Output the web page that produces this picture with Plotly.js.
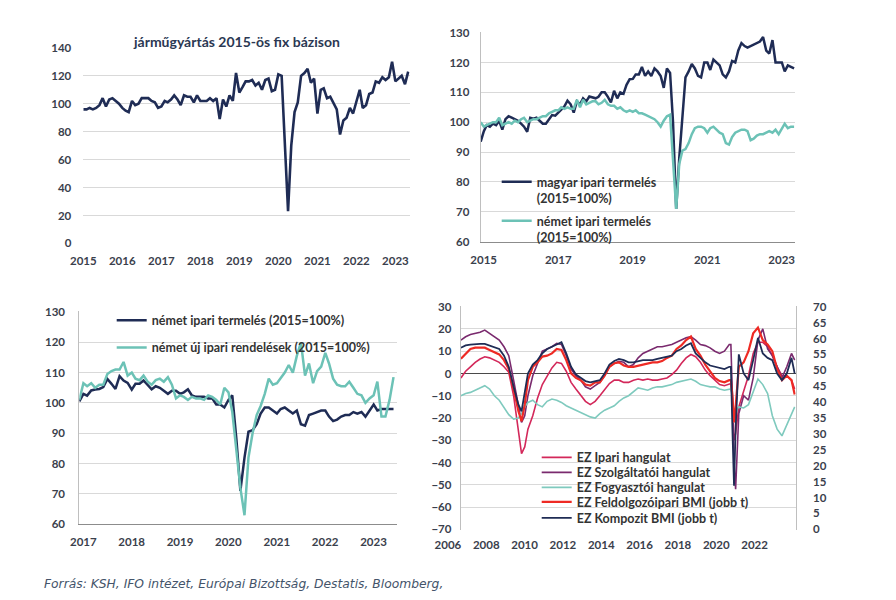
<!DOCTYPE html>
<html><head><meta charset="utf-8">
<script src="https://cdn.plot.ly/plotly-3.0.1.min.js"></script>
<style>html,body{margin:0;padding:0;background:#fff}#chart{width:896px;height:600px}</style>
</head><body><div id="chart"></div>
<script>
// ---------- Panel 1: járműgyártás (monthly, Jan 2015 – May 2023)
const p1Title = 'járműgyártás 2015-ös fix bázison';
const p1TickYears = [2015,2016,2017,2018,2019,2020,2021,2022,2023];
const p1Vehicle = [96,96,97,96,97,99,104,98,103,104,102,100,
 97,95,94,102,99,100,104,104,104,102,101,97,
 98,102,101,103,106,103,99,106,105,105,101,106,
 102,102,102,104,102,104,89,103,98,106,102,122,
 108,112,116,116,117,113,115,110,117,118,109,110,
 121,120,72,23,70,94,101,120,122,125,115,118,
 93,110,111,104,105,100,96,78,88,90,97,93,
 101,110,97,99,107,108,116,115,119,117,119,130,
 116,118,120,114,123];

// ---------- Panel 2: magyar / német ipari termelés (monthly, Jan 2015 – Jun 2023)
const p2TickYears = [2015,2017,2019,2021,2023];
const p2HuName = 'magyar ipari termelés<br>(2015=100%)';
const p2DeName = 'német ipari termelés<br>(2015=100%)';
const p2Hungary = [93.5,97,99,98.5,99.5,99,100.5,97.5,101,102,101.5,101,
 100.5,99.5,98.5,96.8,101.5,101.2,101.5,100.5,99.5,99.5,101,102.4,
 102.2,103.1,104.2,105.3,107.2,106,103.2,107,106,108,107,108.6,
 108.3,108,108.5,110,110,108.5,106.6,110.5,108,110,109.5,112.5,
 114.4,114.5,116,116,118.5,115.5,117,115.5,118,117,115.5,111.5,
 118,116.5,100,71,88,102,115,117,119.5,118,115.5,115,
 120,120,117.5,121,120,119,116,115,117,120.5,120,124,
 126.5,125.5,125,125.5,126,126.5,127,128.5,124,123,127.5,120,
 120,120,117,119,118.5,118];
const p2Germany = [100,98.5,99,99.5,100,100,101.5,99,99.5,100,99.5,100.5,
 100,101,101.5,100,100.5,101,101,101.5,102,102,103,103.5,
 104,104,105,104.5,105,104.5,104.5,107.5,105,107.5,106,106.5,
 107,107,106,106.5,107.5,106,105.5,105.5,104.5,105,104,103.5,
 104,103.5,104,103,103,102.5,102,101.5,101,100,98.5,100.5,
 102,102.5,88,71,86,90.5,91,93,96,98,98.5,98.5,
 98,96.5,98,98.5,97.5,96.5,96,93,92.5,95,96.5,97,
 97.5,97.5,97,94,94.5,95.5,96,96,96.5,97,96.5,97.5,
 96,98,99.5,98,98.5,98.5];

// ---------- Panel 3: német termelés / új rendelések (monthly, Jan 2017 – Jul 2023)
const p3TickYears = [2017,2018,2019,2020,2021,2022,2023];
const p3ProdName = 'német ipari termelés (2015=100%)';
const p3OrdName = 'német új ipari rendelések (2015=100%)';
const p3Production = [100.5,103,102.4,104.1,104.4,104.6,105.2,107.9,106.3,104.6,108.8,107.4,
 106.6,104.4,106.3,106.3,107.4,106,104.5,105.5,105,104,103,104,
 104,103,103.5,104.5,102.5,102,102,102,101.5,101.5,99.5,99.5,
 98.5,101,102.5,88,71,82,90.5,91,93,96.5,98.5,98.5,
 97.5,96.5,98,98.5,97.5,96.5,97.5,93,92.5,96,96.5,97,
 97.5,97.5,95.5,94,94.5,95.5,96,96,97,96.5,97,95.5,
 97.5,99.5,97.5,98,98,98,98];
const p3Orders = [101,106.5,105.5,106.5,105,106,106,109.5,110.5,111,111,113.5,
 109,110,108,107.5,109,107,106,107.5,108,107,108.5,106,
 101.5,102.5,102,101,102,101.5,101.5,101,102.5,102,101,99.5,
 105,103.5,97,85,72,63,82,90,96,99,103,108,
 106,106.5,108,110,112.5,110,115.5,120,109,113,106.5,110.5,
 112,116.5,113,108,106,105.5,105.5,107,105,103,102.5,100,
 101.5,102.5,107,95.5,95.5,101,108.5];

// ---------- Panel 4: euróövezeti hangulat & BMI
const p4TickYears = [2006,2008,2010,2012,2014,2016,2018,2020,2022];
const p4Dates = ['2006-01','2006-04','2006-07','2006-10','2007-01','2007-04','2007-07','2007-10',
 '2008-01','2008-04','2008-07','2008-10','2009-01','2009-03','2009-05','2009-07','2009-10',
 '2010-01','2010-04','2010-07','2010-10','2011-01','2011-04','2011-07','2011-10',
 '2012-01','2012-04','2012-07','2012-10','2013-01','2013-04','2013-07','2013-10',
 '2014-01','2014-04','2014-07','2014-10','2015-01','2015-04','2015-07','2015-10',
 '2016-01','2016-04','2016-07','2016-10','2017-01','2017-04','2017-07','2017-10',
 '2018-01','2018-04','2018-07','2018-10','2019-01','2019-04','2019-07','2019-10',
 '2020-01','2020-02','2020-03','2020-04','2020-05','2020-06','2020-07','2020-10',
 '2021-01','2021-04','2021-07','2021-10','2022-01','2022-04','2022-07','2022-10',
 '2023-01','2023-04','2023-06'];
const p4Names = ['EZ Ipari hangulat','EZ Szolgáltatói hangulat','EZ Fogyasztói hangulat',
 'EZ Feldolgozóipari BMI (jobb t)','EZ Kompozit BMI (jobb t)'];
const p4Industry = [-2,1,3,5, 6.5,7.5,7,6, 5,3,0.5,-10, -27,-36,-33,-25,-19,
 -11,-5,-1,2.5, 5,4.5,1,-4, -7,-9.5,-12.5,-14, -12.5,-10,-7,-4.5,
 -3,-3,-4,-4, -3,-2.5,-3,-2.5, -3,-3,-2.5,-2, -0.5,1.5,4.5,7,
 8.5,7.5,5,1.5, -1,-3,-5,-5.5, -4.5,-4.5,-11,-30,-27,-20,-15,-8,
 -1,9,14,14, 12,8,3,-1, -1,-3,-7];
const p4Services = [15,16.5,17.5,18, 18.5,19.5,18,16.5, 15,12,8,-3, -14,-22,-19,-10,-1,
 5,10,11,12, 13.5,13,8,2, -1,-3,-6,-7, -5.5,-4,-1,3,
 4.5,5.5,5,3, 4,7,9,10, 11,12,12,12.5, 13,14,15,16,
 16.5,15,13,12.5, 11.5,10,9,10, 13,13,-10,-40,-52,-30,-18,-10,
 -12,-2,15,20, 11,8,3,-2, 3,9,6];
const p4Consumer = [-10,-9,-8.5,-7.5, -6.5,-5.5,-7,-10, -12,-15,-18.5,-20.5, -20,-18,-15,-13,-12,
 -14,-15,-12.5,-11.5, -12,-13,-14.5,-15.5, -16.5,-17.5,-18.5,-19.5, -20,-18,-16.5,-15.5,
 -14.5,-12.5,-11,-10, -8,-6.5,-7,-7.5, -6.5,-6,-6,-5.5, -5,-4,-3.5,-3,
 -2.5,-3.5,-5,-5.5, -6,-6,-7,-7.5, -7,-7,-11,-22,-19,-16,-15,-15.5,
 -14,-8,-2.5,-5, -9,-19,-25,-28, -23,-18,-15];
const p4MfgPMI = [53.6,55.3,56.7,57.1, 57.1,57.1,56.4,55.7, 55.0,53.2,50.4,44.1, 37.1,34.0,39.2,46.9,51.1,
 52.5,54.3,54.6,55.3, 56.7,56.4,53.2,49.0, 47.6,46.9,45.5,45.2, 46.2,46.2,48.3,51.1,
 52.2,52.5,51.5,51.1, 51.1,51.5,51.8,52.2, 52.5,52.5,52.9,53.9, 54.6,56.7,57.8,59.5,
 60.6,56.7,54.6,51.8, 49.7,47.6,46.6,46.2, 46.9,46.9,42.0,33.6,38.5,44.8,51.1,52.5,
 56.0,61.6,63.4,59.5, 58.1,56.0,50.4,46.9, 48.3,46.9,42.4];
const p4CompPMI = [57.1,57.8,58.1,58.3, 58.3,58.3,57.8,57.1, 56.7,54.6,51.1,44.8, 39.2,37.1,43.4,49.0,51.8,
 53.2,55.3,56.7,57.4, 58.1,58.8,55.3,51.1, 48.7,47.6,46.6,46.2, 46.6,46.9,49.0,51.8,
 52.9,53.6,53.2,52.5, 52.5,52.9,53.2,53.2, 53.2,53.6,53.9,54.3, 54.6,56.0,56.7,57.8,
 58.5,55.3,53.9,52.5, 51.5,51.1,50.8,50.4, 51.1,51.1,31.5,13.7,31.5,46.9,55.0,49.0,
 46.9,53.2,60.2,55.3, 53.9,53.2,49.0,46.9, 49.0,53.9,49.0];

const footerText = 'Forrás: KSH, IFO intézet, Európai Bizottság, Destatis, Bloomberg,';

// ---------- helpers
function monthDates(y, m, n) {
  const out = [];
  for (let i = 0; i < n; i++) {
    const yy = y + Math.floor((m - 1 + i) / 12);
    const mm = ((m - 1 + i) % 12) + 1;
    out.push(yy + '-' + String(mm).padStart(2, '0') + '-01');
  }
  return out;
}
const tv = ys => ys.map(y => y + '-01-01');
const tt = ys => ys.map(String);

const W = 896, H = 600;
const px = v => v / W, py = v => 1 - v / H;

const navy = '#1f2c55', teal = '#6cc2b6';
const grid = '#d9d9d9';
const tickFont = {family: 'Lato, sans-serif', size: 11.5, color: '#3a404c', weight: 700};
const legFont = {family: 'Lato, sans-serif', size: 12.5, color: '#333333', weight: 700};

const p1Dates = monthDates(2015, 1, p1Vehicle.length);
const p2Dates = monthDates(2015, 1, p2Hungary.length);
const p3Dates = monthDates(2017, 1, p3Production.length);

const traces = [
  {x: p1Dates, y: p1Vehicle, xaxis: 'x', yaxis: 'y', mode: 'lines', line: {color: navy, width: 2.6}, showlegend: false, name: p1Title},
  {x: p2Dates, y: p2Hungary, xaxis: 'x2', yaxis: 'y2', mode: 'lines', line: {color: navy, width: 2.5}, name: p2HuName, legend: 'legend'},
  {x: p2Dates, y: p2Germany, xaxis: 'x2', yaxis: 'y2', mode: 'lines', line: {color: teal, width: 2.5}, name: p2DeName, legend: 'legend2'},
  {x: p3Dates, y: p3Production, xaxis: 'x3', yaxis: 'y3', mode: 'lines', line: {color: navy, width: 2.5}, name: p3ProdName, legend: 'legend3'},
  {x: p3Dates, y: p3Orders, xaxis: 'x3', yaxis: 'y3', mode: 'lines', line: {color: teal, width: 2.5}, name: p3OrdName, legend: 'legend4'},
  {x: p4Dates, y: p4Industry, xaxis: 'x4', yaxis: 'y4', mode: 'lines', line: {color: '#d3285a', width: 1.6}, name: p4Names[0], legend: 'legend5'},
  {x: p4Dates, y: p4Services, xaxis: 'x4', yaxis: 'y4', mode: 'lines', line: {color: '#7a2a6e', width: 1.6}, name: p4Names[1], legend: 'legend6'},
  {x: p4Dates, y: p4Consumer, xaxis: 'x4', yaxis: 'y4', mode: 'lines', line: {color: '#7fcabe', width: 1.6}, name: p4Names[2], legend: 'legend7'},
  {x: p4Dates, y: p4MfgPMI, xaxis: 'x4', yaxis: 'y5', mode: 'lines', line: {color: '#ee2a24', width: 2.2}, name: p4Names[3], legend: 'legend8'},
  {x: p4Dates, y: p4CompPMI, xaxis: 'x4', yaxis: 'y5', mode: 'lines', line: {color: navy, width: 1.8}, name: p4Names[4], legend: 'legend9'}
];

function leg(leftPx, topPx) {
  return {x: px(leftPx), y: py(topPx), xanchor: 'left', yanchor: 'top', bgcolor: 'rgba(0,0,0,0)',
    borderwidth: 0, font: legFont, valign: 'top', itemwidth: 30, itemclick: false, itemdoubleclick: false};
}

const xCommon = {type: 'date', showgrid: false, zeroline: false, ticks: '', tickfont: tickFont, tickangle: 0};
const layout = {
  width: W, height: H, margin: {l: 0, r: 0, t: 0, b: 0},
  paper_bgcolor: '#ffffff', plot_bgcolor: 'rgba(0,0,0,0)', hovermode: false,
  font: {family: 'Lato, sans-serif'},
  showlegend: true,
  // panel 1
  xaxis: Object.assign({}, xCommon, {domain: [px(83.3), px(409.7)], anchor: 'y', range: ['2015-01-01', '2023-05-15'],
    tickvals: tv(p1TickYears), ticktext: tt(p1TickYears), showline: false, ticklabelstandoff: 8}),
  yaxis: {domain: [py(244), py(47.3)], anchor: 'x', range: [-0.4, 140.4], tick0: 0, dtick: 20, gridcolor: grid, gridwidth: 1,
    zeroline: false, showline: false, ticks: '', tickfont: tickFont, ticklabelstandoff: 11},
  // panel 2
  xaxis2: Object.assign({}, xCommon, {domain: [px(480.7), px(795)], anchor: 'y2', range: ['2015-01-01', '2023-06-10'],
    tickvals: tv(p2TickYears), ticktext: tt(p2TickYears), showline: true, linecolor: '#8c8c8c', linewidth: 1,
    ticklabelstandoff: 7, ticklabelshift: 3}),
  yaxis2: {domain: [py(241.7), py(31.7)], anchor: 'x2', range: [60, 130.3], tick0: 60, dtick: 10, gridcolor: grid,
    zeroline: false, showline: true, linecolor: '#bfbfbf', ticks: '', tickfont: tickFont, ticklabelstandoff: 8},
  // panel 3
  xaxis3: Object.assign({}, xCommon, {domain: [px(79.3), px(396.7)], anchor: 'y3', range: ['2017-01-01', '2023-07-25'],
    tickvals: tv(p3TickYears), ticktext: tt(p3TickYears), showline: true, linecolor: '#8c8c8c', linewidth: 1,
    ticklabelstandoff: 7, ticklabelshift: 4}),
  yaxis3: {domain: [py(524.3), py(311)], anchor: 'x3', range: [60, 130.3], tick0: 60, dtick: 10, gridcolor: grid,
    zeroline: false, showline: true, linecolor: '#bfbfbf', ticks: '', tickfont: tickFont, ticklabelstandoff: 11},
  // panel 4
  xaxis4: Object.assign({}, xCommon, {domain: [px(460.7), px(795.7)], anchor: 'y4', range: ['2005-12-28', '2023-06-20'],
    tickvals: tv(p4TickYears), ticktext: tt(p4TickYears), showline: false, ticklabelstandoff: 6, ticklabelshift: -13}),
  yaxis4: {domain: [py(530), py(306)], anchor: 'x4', range: [-70.3, 30.3], tick0: -70, dtick: 10, gridcolor: grid,
    zeroline: true, zerolinecolor: '#4a4a4a', zerolinewidth: 1.3, showline: true, linecolor: '#bfbfbf', ticks: '',
    tickfont: tickFont, ticklabelstandoff: 6},
  yaxis5: {overlaying: 'y4', side: 'right', anchor: 'x4', range: [-0.21, 70.21], tick0: 0, dtick: 5, showgrid: false,
    zeroline: false, showline: true, linecolor: '#bfbfbf', ticks: '', tickfont: tickFont, ticklabelstandoff: 14},
  legend: leg(496.7, 167),
  legend2: leg(496.7, 206),
  legend3: leg(111.7, 305.5),
  legend4: leg(111.7, 332.8),
  legend5: leg(536.7, 442.8),
  legend6: leg(536.7, 457.8),
  legend7: leg(536.7, 472.8),
  legend8: leg(536.7, 487.2),
  legend9: leg(536.7, 503.2),
  annotations: [
    {text: p1Title, xref: 'paper', yref: 'paper', x: px(236.7), y: py(41.7), xanchor: 'center', yanchor: 'middle',
      showarrow: false, font: {family: 'Lato, sans-serif', size: 14, color: '#2b3853', weight: 700}},
    {text: footerText, xref: 'paper', yref: 'paper', x: px(41.7), y: py(584), xanchor: 'left', yanchor: 'middle',
      showarrow: false, font: {family: 'DejaVu Sans, sans-serif', size: 12.3, color: '#44546a', style: 'italic'}}
  ]
};

Plotly.newPlot('chart', traces, layout, {staticPlot: true, displayModeBar: false});
</script>
</body></html>
